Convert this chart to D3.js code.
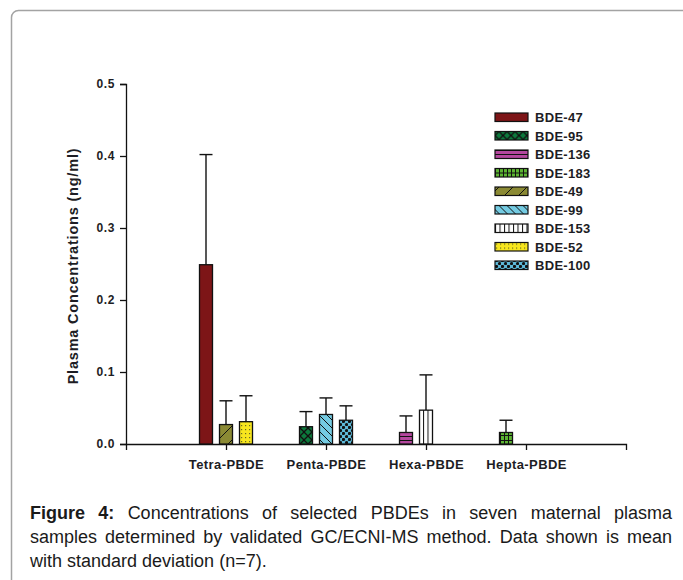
<!DOCTYPE html>
<html lang="en">
<head>
  <meta charset="UTF-8">
  <title>Plasma PBDE concentrations</title>
  <script src="https://d3js.org/d3.v7.min.js"></script>
  <style>
    body { margin: 0; background: #fff; }
    svg { display: block; }
    .tick-label { font-family: "Liberation Sans", Arial, sans-serif; font-weight: bold; fill: #1d1d24; }
  </style>
</head>
<body>
<svg id="chart" width="683" height="580"></svg>
<script>
// values
const categories = ["Tetra-PBDE", "Penta-PBDE", "Hexa-PBDE", "Hepta-PBDE"];
const seriesNames = ["BDE-47", "BDE-95", "BDE-136", "BDE-183", "BDE-49", "BDE-99", "BDE-153", "BDE-52", "BDE-100"];
const seriesCategory = ["Tetra-PBDE", "Penta-PBDE", "Hexa-PBDE", "Hepta-PBDE", "Tetra-PBDE", "Penta-PBDE", "Hexa-PBDE", "Tetra-PBDE", "Penta-PBDE"];
const means = [0.249, 0.024, 0.016, 0.016, 0.027, 0.041, 0.047, 0.031, 0.033];
const sds = [0.153, 0.021, 0.023, 0.017, 0.033, 0.023, 0.049, 0.036, 0.020];
const yTicks = [0, 0.1, 0.2, 0.3, 0.4, 0.5];
const yLabel = "Plasma Concentrations (ng/ml)";
const captionBold = "Figure 4:";
const captionLines = [
  "Concentrations of selected PBDEs in seven maternal plasma",
  "samples determined by validated GC/ECNI-MS method. Data shown is mean",
  "with standard deviation (n=7)."
];

const svg = d3.select("#chart");
const defs = svg.append("defs");

// frame round the figure
svg.append("rect")
  .attr("x", 11.5).attr("y", 10.5)
  .attr("width", 720).attr("height", 620)
  .attr("rx", 7)
  .attr("fill", "none")
  .attr("stroke", "#a3a3a3")
  .attr("stroke-width", 1.5);

// fill patterns, one per series
function pattern(id, w, h, bg, draw) {
  const p = defs.append("pattern")
    .attr("id", id)
    .attr("patternUnits", "userSpaceOnUse")
    .attr("width", w).attr("height", h);
  p.append("rect").attr("width", w).attr("height", h).attr("fill", bg);
  draw(p);
}
function line(p, x1, y1, x2, y2, sw) {
  p.append("line").attr("x1", x1).attr("y1", y1).attr("x2", x2).attr("y2", y2)
    .attr("stroke", "#111").attr("stroke-width", sw || 1);
}

pattern("p47", 4, 4, "#7d1517", () => {});
pattern("p95", 8, 8, "#0c7a3c", p => { line(p, 0, 0, 8, 8, 1.3); line(p, 8, 0, 0, 8, 1.3); });
pattern("p136", 4, 4, "#b4479e", p => { line(p, 0, 0.5, 4, 0.5, 1); });
pattern("p183", 4, 5, "#5cb432", p => { line(p, 0.5, 0, 0.5, 5, 1); line(p, 0, 0.5, 4, 0.5, 1); });
pattern("p49", 14, 14, "#8b8a34", p => { line(p, 0, 14, 14, 0, 1); line(p, -2, 2, 2, -2, 1); line(p, 12, 16, 16, 12, 1); });
pattern("p99", 8, 8, "#74cbe2", p => { line(p, 0, 0, 8, 8, 1); line(p, -2, 6, 2, 10, 1); line(p, 6, -2, 10, 2, 1); });
pattern("p153", 4.5, 4, "#ffffff", p => { line(p, 0.5, 0, 0.5, 4, 1); });
pattern("p52", 4, 4, "#f7e61e", p => {
  p.append("rect").attr("x", 1).attr("y", 1).attr("width", 1.2).attr("height", 1.2).attr("fill", "#6a6a20");
});
pattern("p100", 6, 6, "#5db9d9", p => {
  p.append("circle").attr("cx", 1.5).attr("cy", 1.5).attr("r", 1.6).attr("fill", "#111");
  p.append("circle").attr("cx", 4.5).attr("cy", 4.5).attr("r", 1.6).attr("fill", "#111");
});
const fills = ["p47", "p95", "p136", "p183", "p49", "p99", "p153", "p52", "p100"];

// scales
const x = d3.scaleLinear().domain([0, categories.length + 1]).range([126, 626]);
const y = d3.scaleLinear().domain([0, 0.5]).range([444, 84]);
const slot = d3.scaleBand().domain([0, 1, 2]).range([-30, 30]).paddingInner(0.35).paddingOuter(0.175);

const bars = seriesNames.map((name, i) => {
  const cat = seriesCategory[i];
  const k = seriesNames.filter((n, j) => j < i && seriesCategory[j] === cat).length;
  return { name, i, cat, k, mean: means[i], sd: sds[i] };
});

// axes
const yAxis = d3.axisLeft(y).tickValues(yTicks).tickFormat(d3.format(".1f")).tickSizeOuter(0).tickSize(6).tickPadding(5);
const yg = svg.append("g").attr("transform", `translate(${x(0)},0)`).call(yAxis);
yg.select(".domain").attr("stroke", "#111").attr("stroke-width", 1.3);
yg.selectAll(".tick line").attr("stroke", "#111").attr("stroke-width", 1.3);
yg.selectAll(".tick text").attr("class", "tick-label").attr("font-size", 12).attr("letter-spacing", 0.6);

const xAxis = d3.axisBottom(x).tickValues(categories.map((c, i) => i + 1))
  .tickFormat(d => categories[d - 1]).tickSizeOuter(0).tickSize(6).tickPadding(10);
const xg = svg.append("g").attr("transform", `translate(0,${y(0)})`).call(xAxis);
xg.select(".domain").attr("stroke", "#111").attr("stroke-width", 1.3);
xg.selectAll(".tick line").attr("stroke", "#111").attr("stroke-width", 1.3);
xg.selectAll(".tick text").attr("class", "tick-label").attr("font-size", 13).attr("letter-spacing", 0.4);

svg.append("text")
  .attr("class", "tick-label")
  .attr("transform", `translate(78,266) rotate(-90)`)
  .attr("text-anchor", "middle")
  .attr("font-size", 14.5)
  .attr("letter-spacing", 0.8)
  .text(yLabel);

// error bars (up only)
const cx = d => x(categories.indexOf(d.cat) + 1) + slot(d.k) + slot.bandwidth() / 2;
const err = svg.append("g").attr("stroke", "#111").attr("stroke-width", 1.4);
err.selectAll("line.v").data(bars).join("line").attr("class", "v")
  .attr("x1", cx).attr("x2", cx)
  .attr("y1", d => y(d.mean)).attr("y2", d => y(d.mean + d.sd));
err.selectAll("line.c").data(bars).join("line").attr("class", "c")
  .attr("x1", d => cx(d) - slot.bandwidth() / 2).attr("x2", d => cx(d) + slot.bandwidth() / 2)
  .attr("y1", d => y(d.mean + d.sd)).attr("y2", d => y(d.mean + d.sd));

// bars
svg.append("g").selectAll("rect").data(bars).join("rect")
  .attr("x", d => x(categories.indexOf(d.cat) + 1) + slot(d.k))
  .attr("width", slot.bandwidth())
  .attr("y", d => y(d.mean))
  .attr("height", d => y(0) - y(d.mean))
  .attr("fill", d => `url(#${fills[d.i]})`)
  .attr("stroke", "#111")
  .attr("stroke-width", 1.3);

// legend
const lg = svg.append("g").attr("transform", "translate(495,117)");
const row = lg.selectAll("g").data(seriesNames).join("g")
  .attr("transform", (d, i) => `translate(0,${i * 18.5})`);
row.append("rect")
  .attr("x", 0).attr("y", -4).attr("width", 33).attr("height", 8.5)
  .attr("fill", (d, i) => `url(#${fills[i]})`)
  .attr("stroke", "#111").attr("stroke-width", 1.2);
row.append("text")
  .attr("class", "tick-label")
  .attr("x", 40).attr("y", 5)
  .attr("font-size", 13)
  .attr("letter-spacing", 0.3)
  .text(d => d);

// caption: first two lines justified, last line left aligned
const capLeft = 30, capRight = 672, capTop = 519, capStep = 24;
const cap = svg.append("g")
  .attr("font-family", "'Liberation Sans', Arial, sans-serif")
  .attr("font-size", 18)
  .attr("fill", "#1a1a1a");
const measure = cap.append("text").attr("x", -999).attr("y", -999);
const space = 5;
captionLines.forEach((txt, li) => {
  const words = (li === 0 ? captionBold + " " + txt : txt).split(" ")
    .map((w, i) => ({ w, bold: li === 0 && i < 2 }));
  words.forEach(o => {
    measure.attr("font-weight", o.bold ? "bold" : "normal").text(o.w);
    o.width = measure.node().getComputedTextLength();
  });
  const last = li === captionLines.length - 1;
  const total = d3.sum(words, o => o.width);
  const gap = last ? space : (capRight - capLeft - total) / (words.length - 1);
  let px = capLeft;
  words.forEach(o => {
    cap.append("text")
      .attr("x", px).attr("y", capTop + li * capStep)
      .attr("font-weight", o.bold ? "bold" : "normal")
      .text(o.w);
    px += o.width + gap;
  });
});
measure.remove();
</script>
</body>
</html>
